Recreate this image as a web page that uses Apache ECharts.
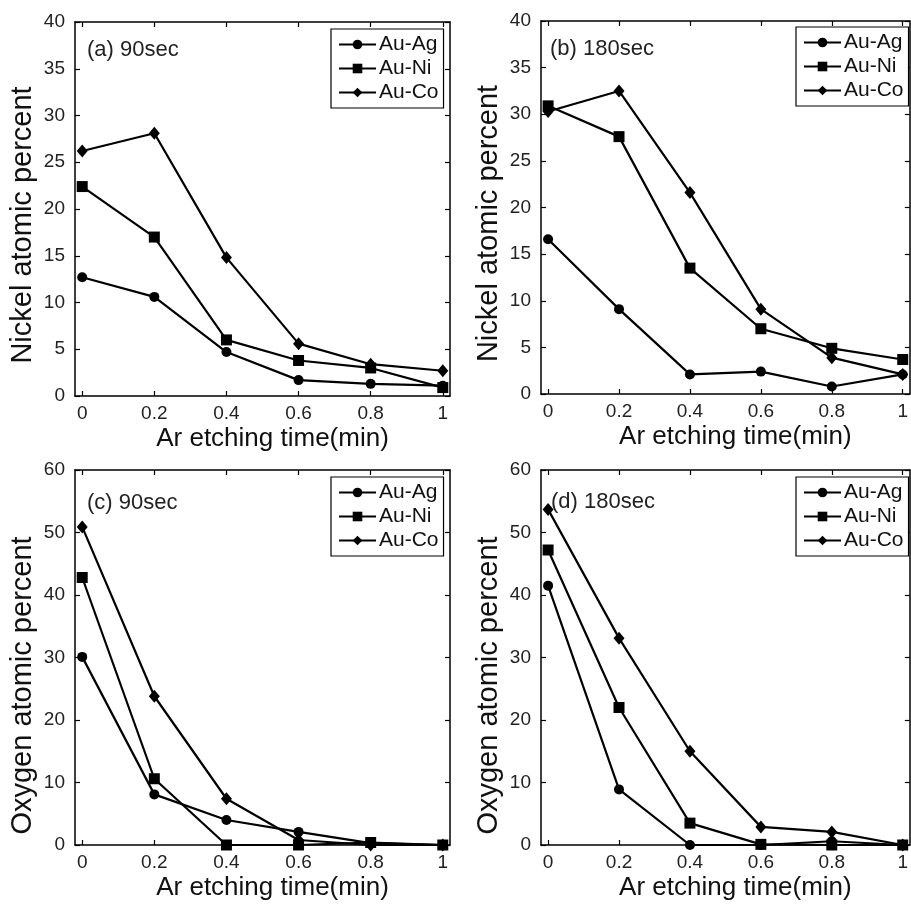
<!DOCTYPE html>
<html>
<head>
<meta charset="utf-8">
<script src="https://cdn.jsdelivr.net/npm/echarts@6/dist/echarts.min.js"></script>
<style>
html,body{margin:0;padding:0;background:#fff;}
#chart{width:911px;height:904px;}
</style>
</head>
<body>
<div id="chart"></div>
<script>
// ---- data ----
const etchTimes = [0, 0.2, 0.4, 0.6, 0.8, 1];
const xTickValues = [0, 0.2, 0.4, 0.6, 0.8, 1];
const seriesNames = ['Au-Ag', 'Au-Ni', 'Au-Co'];
const panelTitles = ['(a) 90sec', '(b) 180sec', '(c) 90sec', '(d) 180sec'];
const yNames = ['Nickel atomic percent', 'Nickel atomic percent', 'Oxygen atomic percent', 'Oxygen atomic percent'];
const xName = 'Ar etching time(min)';

// (a) Nickel, 90 sec
const niAg90 = [12.7, 10.6, 4.7, 1.7, 1.3, 1.1];
const niNi90 = [22.4, 17.0, 6.0, 3.8, 3.0, 0.9];
const niCo90 = [26.2, 28.1, 14.8, 5.6, 3.4, 2.7];
// (b) Nickel, 180 sec
const niAg180 = [16.6, 9.1, 2.1, 2.4, 0.8, 2.1];
const niNi180 = [30.9, 27.6, 13.5, 7.0, 4.9, 3.7];
const niCo180 = [30.3, 32.5, 21.6, 9.1, 3.9, 2.1];
// (c) Oxygen, 90 sec
const oAg90 = [30.1, 8.1, 4.0, 2.1, 0.3, 0];
const oNi90 = [42.8, 10.6, 0, 0, 0.4, 0];
const oCo90 = [50.9, 23.8, 7.4, 0.8, 0, 0];
// (d) Oxygen, 180 sec
const oAg180 = [41.5, 8.9, 0, 0, 0.6, 0];
const oNi180 = [47.2, 22.0, 3.5, 0.1, 0, 0];
const oCo180 = [53.7, 33.1, 15.0, 2.9, 2.1, 0];

const yMaxes = [40, 40, 60, 60];
const yIntervals = [5, 5, 10, 10];
const panelData = [
  [niAg90, niNi90, niCo90],
  [niAg180, niNi180, niCo180],
  [oAg90, oNi90, oCo90],
  [oAg180, oNi180, oCo180]
];

// ---- layout ----
const grids = [
  {left: 75, top: 22, width: 375, height: 374},
  {left: 541, top: 21, width: 374, height: 373},
  {left: 75, top: 470, width: 375, height: 375},
  {left: 541, top: 470, width: 374, height: 375}
];
const titlePos = [[87, 39], [550, 38], [87, 492], [551, 491]];
const legendPos = [[331, 29], [796, 27], [331, 477], [796, 477]];
const yNameShift = [32, 32, 56, 56];
const symbols = ['circle', 'rect', 'diamond'];
const symbolSizes = [10, 11, [11, 13]];

const font = 'Liberation Sans, Arial, sans-serif';
const black = '#000';

const option = {
  animation: false,
  backgroundColor: '#fff',
  textStyle: {fontFamily: font},
  grid: grids.map(g => Object.assign({containLabel: false}, g)),
  title: panelTitles.map((t, i) => ({
    text: t, left: titlePos[i][0], top: titlePos[i][1], padding: 0,
    textStyle: {fontSize: 22, fontWeight: 'normal', color: '#222', fontFamily: font}
  })),
  legend: legendPos.map((p, i) => ({
    data: seriesNames,
    orient: 'vertical',
    left: p[0], top: p[1],
    padding: [5, 5, 5, 7],
    itemGap: 3,
    itemWidth: 37,
    itemHeight: 12,
    borderColor: black,
    borderWidth: 1.2,
    backgroundColor: '#fff',
    selectedMode: false,
    textStyle: {fontSize: 21, lineHeight: 21, color: '#111', fontFamily: font, padding: [0, 0, 0, -2]}
  })),
  xAxis: [],
  yAxis: [],
  series: []
};

for (let i = 0; i < 4; i++) {
  // bottom x axis
  option.xAxis.push({
    type: 'value', gridIndex: i, min: -0.02, max: 1.02, position: 'bottom',
    name: xName, nameLocation: 'middle', nameGap: 30,
    nameTextStyle: {fontSize: 26, color: '#111', fontFamily: font, padding: [0, 0, 0, 20]},
    axisLine: {show: true, onZero: false, lineStyle: {color: black, width: 1.5}},
    axisTick: {show: true, inside: true, length: 5, customValues: xTickValues, lineStyle: {color: black, width: 1.2}},
    axisLabel: {show: true, customValues: xTickValues, margin: 8, fontSize: 19, color: '#222', fontFamily: font},
    splitLine: {show: false}
  });
  // top mirror x axis
  option.xAxis.push({
    type: 'value', gridIndex: i, min: -0.02, max: 1.02, position: 'top',
    axisLine: {show: true, onZero: false, lineStyle: {color: black, width: 1.5}},
    axisTick: {show: true, inside: true, length: 5, customValues: xTickValues, lineStyle: {color: black, width: 1.2}},
    axisLabel: {show: false},
    splitLine: {show: false}
  });
  // left y axis
  option.yAxis.push({
    type: 'value', gridIndex: i, min: 0, max: yMaxes[i], interval: yIntervals[i], position: 'left',
    name: yNames[i], nameLocation: 'middle', nameGap: 38,
    nameTextStyle: {fontSize: 29, color: '#111', fontFamily: font, padding: [0, yNameShift[i], 0, 0]},
    axisLine: {show: true, onZero: false, lineStyle: {color: black, width: 1.5}},
    axisTick: {show: true, inside: true, length: 5, lineStyle: {color: black, width: 1.2}},
    axisLabel: {show: true, margin: 10, fontSize: 19, color: '#222', fontFamily: font},
    splitLine: {show: false}
  });
  // right mirror y axis
  option.yAxis.push({
    type: 'value', gridIndex: i, min: 0, max: yMaxes[i], interval: yIntervals[i], position: 'right',
    axisLine: {show: true, onZero: false, lineStyle: {color: black, width: 1.5}},
    axisTick: {show: true, inside: true, length: 5, lineStyle: {color: black, width: 1.2}},
    axisLabel: {show: false},
    splitLine: {show: false}
  });
  for (let s = 0; s < 3; s++) {
    const vals = panelData[i][s];
    option.series.push({
      type: 'line',
      name: seriesNames[s],
      xAxisIndex: i * 2,
      yAxisIndex: i * 2,
      data: etchTimes.map((x, k) => [x, vals[k]]),
      symbol: symbols[s],
      symbolSize: symbolSizes[s],
      showAllSymbol: true,
      clip: false,
      lineStyle: {color: black, width: 2.2},
      itemStyle: {color: black, borderColor: black, borderWidth: 0},
      emphasis: {disabled: true}
    });
  }
}

const chart = echarts.init(document.getElementById('chart'), null, {renderer: 'canvas'});
chart.setOption(option);
</script>
</body>
</html>
